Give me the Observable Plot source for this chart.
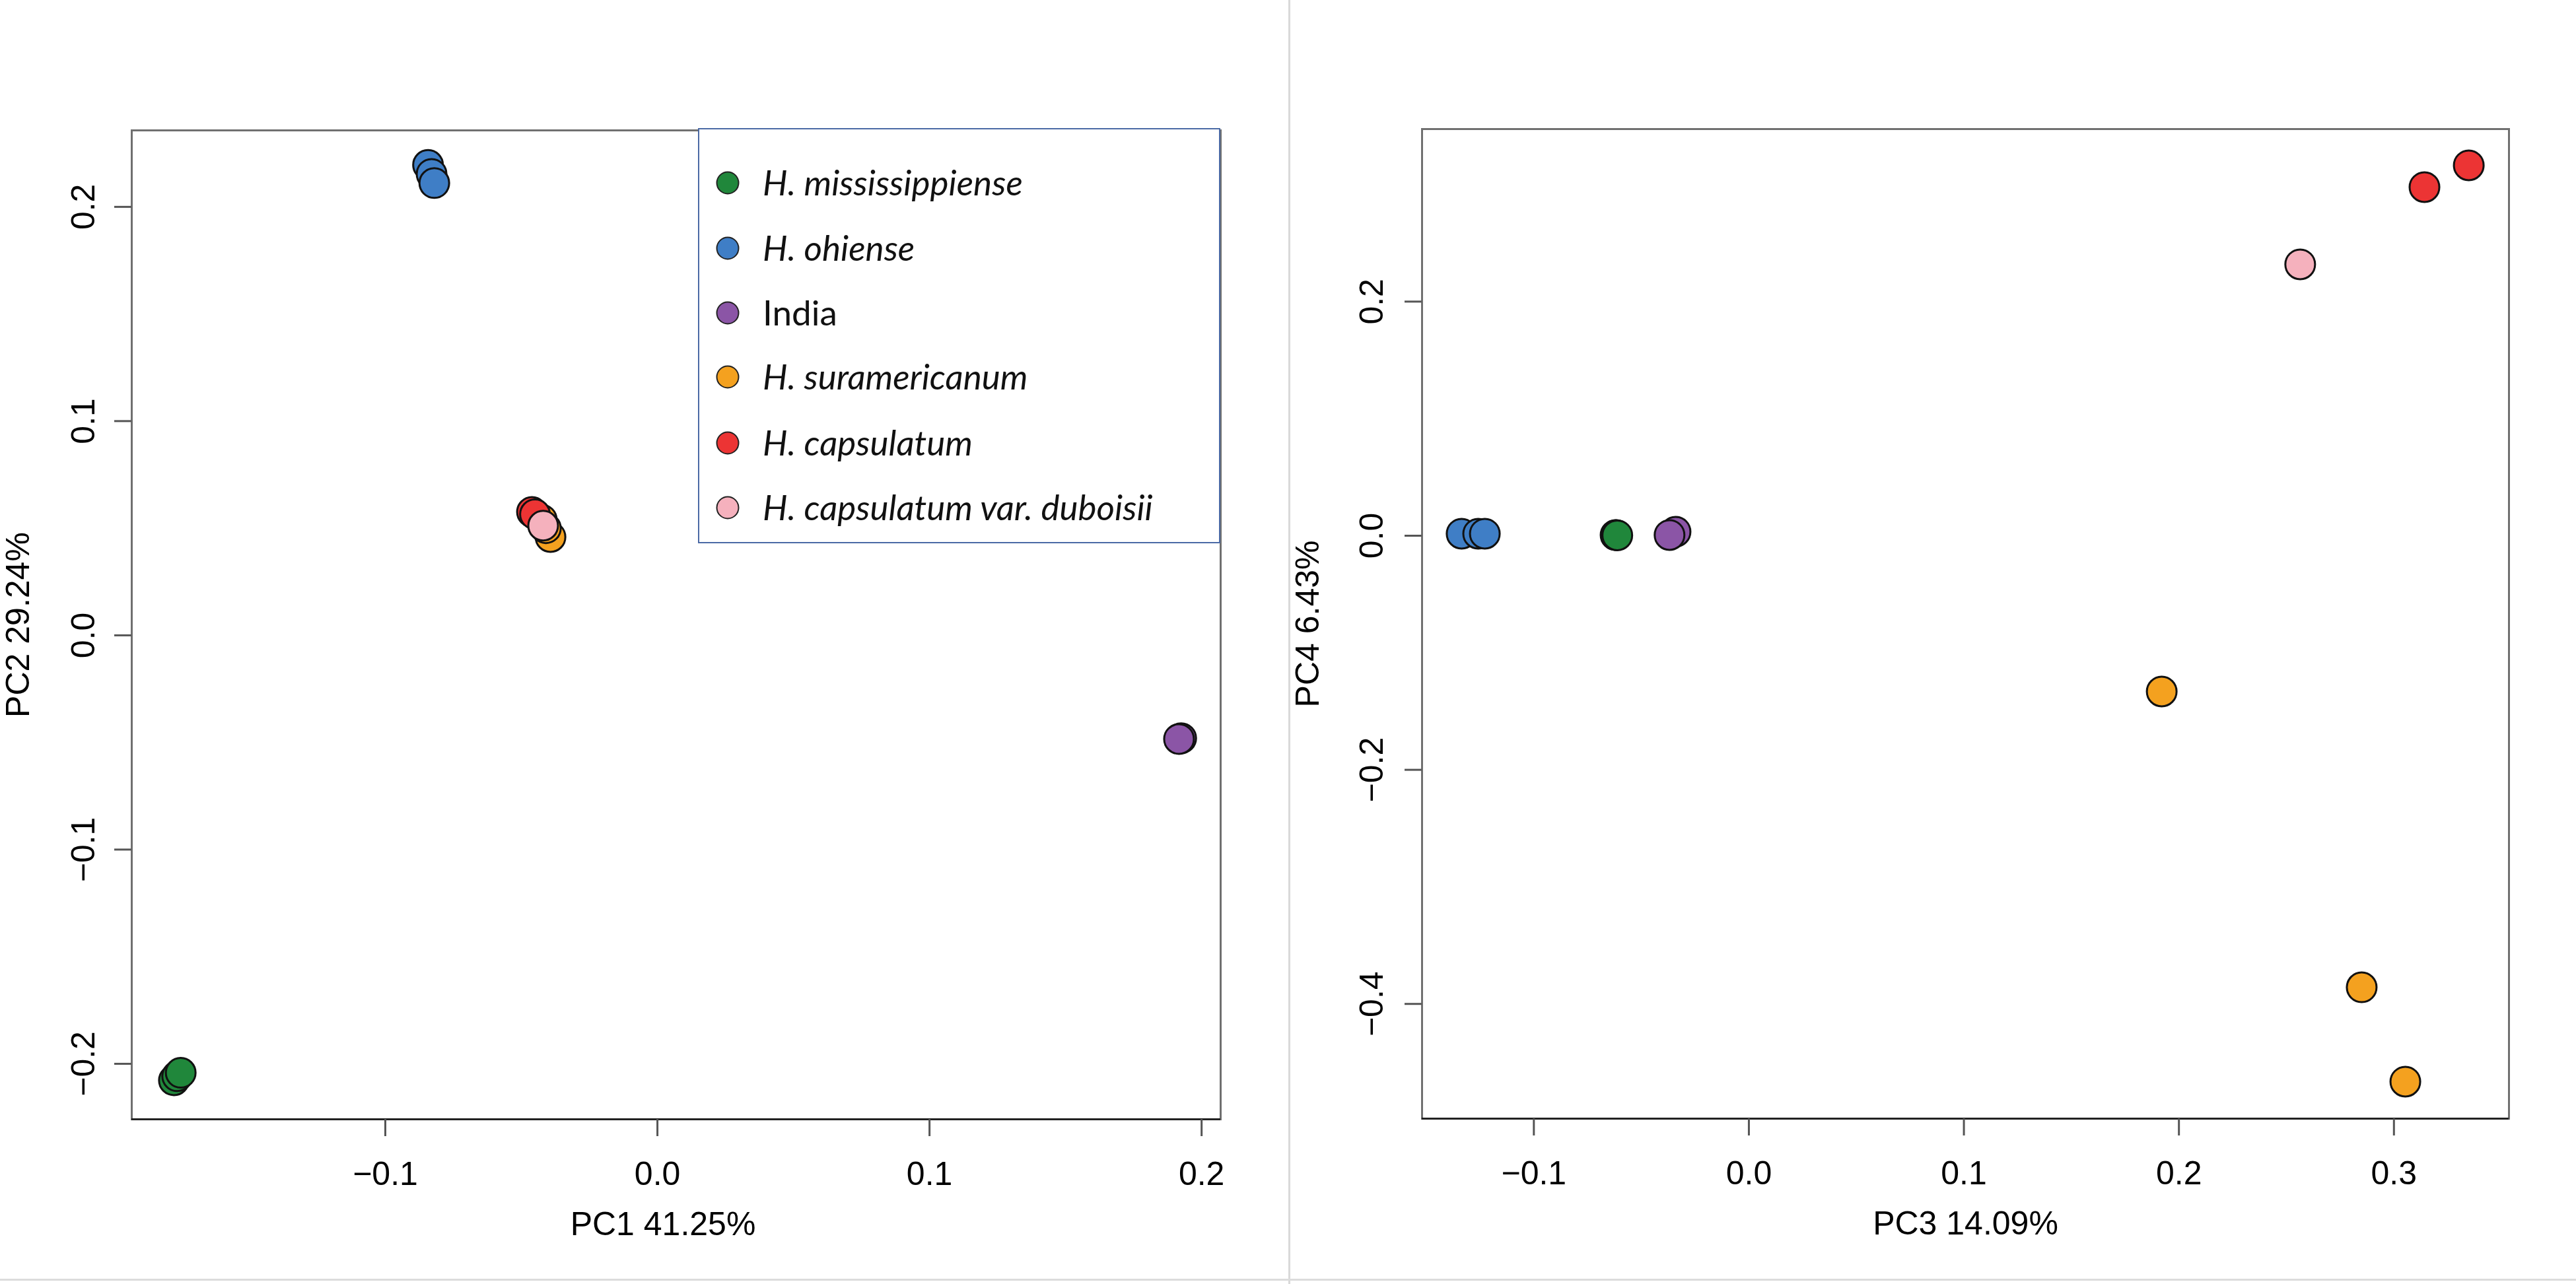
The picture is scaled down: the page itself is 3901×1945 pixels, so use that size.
<!DOCTYPE html>
<html>
<head>
<meta charset="utf-8">
<script src="https://cdn.jsdelivr.net/npm/d3@7"></script>
<script src="https://cdn.jsdelivr.net/npm/@observablehq/plot@0.6"></script>
<style>
  html, body { margin: 0; padding: 0; background: #fff; }
  #root { position: relative; width: 3901px; height: 1945px; overflow: hidden; background: #fff; }
  .panel { position: absolute; top: 0; }
  #divider { position: absolute; left: 1951px; top: 0; width: 3px; height: 1945px; background: #d9d9d9; }
  #bottomline { position: absolute; left: 0; top: 1937px; width: 3901px; height: 3px; background: #dcdcdc; }
  #legend { position: absolute; left: 1057px; top: 194px; width: 791px; height: 629px; box-sizing: border-box;
            border: 2px solid #4b6aa5; background: #fff; z-index: 5;
            font-family: Lato, "Open Sans", sans-serif; font-size: 53px; color: #111; }
  .row { position: absolute; left: 0; height: 60px; }
  .row svg { position: absolute; left: 24px; top: 11px; }
  .row span { position: absolute; left: 96px; white-space: nowrap; line-height: 60px; top: -1px; }
</style>
</head>
<body>
<div id="root">
  <div id="left" class="panel" style="left:0px"></div>
  <div id="right" class="panel" style="left:1950px"></div>
  <div id="divider"></div>
  <div id="bottomline"></div>
  <div id="legend"></div>
</div>
<script>
// ---- categories ----
const groups = ["H. mississippiense", "H. ohiense", "India", "H. suramericanum", "H. capsulatum", "H. capsulatum var. duboisii"];
const groupItalic = [true, true, false, true, true, true];
const groupColors = ["#20873b", "#3f7ec6", "#8b55a6", "#f4a11f", "#ec3434", "#f5b1bd"];

// ---- samples (group index per sample) ----
const sampleGroup = [0, 0, 0, 1, 1, 1, 2, 2, 3, 3, 3, 4, 4, 5];

// ---- PC scores ----
const pc1 = [-0.1777, -0.1765, -0.1752, -0.0843, -0.0830, -0.0820, 0.1925, 0.1917, -0.0393, -0.0410, -0.0425, -0.0461, -0.0450, -0.0420];
const pc2 = [-0.2077, -0.2058, -0.2042, 0.2196, 0.2154, 0.2111, -0.0480, -0.0484, 0.0459, 0.0500, 0.0540, 0.0576, 0.0565, 0.0512];
const pc3 = [-0.0620, -0.0617, -0.0612, -0.1336, -0.1259, -0.1228, -0.0341, -0.0369, 0.1920, 0.2850, 0.3053, 0.3142, 0.3348, 0.2564];
const pc4 = [0.0006, 0.0006, 0.0003, 0.0017, 0.0017, 0.0017, 0.0034, 0.0006, -0.1331, -0.3858, -0.4664, 0.2978, 0.3164, 0.2318];

// ---- axes ----
const leftXTicks = [-0.1, 0.0, 0.1, 0.2];
const leftYTicks = [-0.2, -0.1, 0.0, 0.1, 0.2];
const rightXTicks = [-0.1, 0.0, 0.1, 0.2, 0.3];
const rightYTicks = [-0.4, -0.2, 0.0, 0.2];
const leftXLabel = "PC1 41.25%";
const leftYLabel = "PC2 29.24%";
const rightXLabel = "PC3 14.09%";
const rightYLabel = "PC4 6.43%";
const leftXDomain = [-0.1932, 0.2070];
const leftYDomain = [-0.2259, 0.2357];
const rightXDomain = [-0.1520, 0.3535];
const rightYDomain = [-0.4980, 0.3474];

const fmt = d3.format(".1f");
const FONT = "'Liberation Sans', Arial, Helvetica, sans-serif";

function panel(o) {
  const data = sampleGroup.map((g, i) => ({group: groups[g], x: o.xs[i], y: o.ys[i]}));
  return Plot.plot({
    width: o.width, height: 1945,
    marginLeft: o.mL, marginRight: o.mR, marginTop: o.mT, marginBottom: o.mB,
    style: {fontFamily: FONT, background: "transparent", color: "#000"},
    x: {domain: o.xDomain},
    y: {domain: o.yDomain},
    color: {domain: groups, range: groupColors},
    marks: [
      Plot.frame({stroke: "#707070", strokeWidth: 3}),
      Plot.ruleY([o.yDomain[0]], {stroke: "#222", strokeWidth: 3}),
      Plot.axisX({ticks: o.xTicks, tickSize: 26, tickFormat: fmt, tickPadding: 38, fontSize: 50, stroke: "#555", strokeWidth: 3, label: null, fill: "#000"}),
      Plot.axisY({ticks: o.yTicks, tickSize: 26, tickFormat: () => "", stroke: "#555", strokeWidth: 3, label: null}),
      Plot.text(o.yTicks, {y: d => d, text: d => fmt(d), frameAnchor: "left", dx: o.yTickDx, rotate: -90,
                           fontSize: 50, textAnchor: "middle", lineAnchor: "middle", fill: "#000"}),
      Plot.text([o.xLabel], {frameAnchor: "bottom", dx: o.xTitleDx, dy: 159, fontSize: 50, textAnchor: "middle", lineAnchor: "middle", fill: "#000"}),
      Plot.text([o.yLabel], {frameAnchor: "left", dx: o.yTitleDx, rotate: -90, fontSize: 50, textAnchor: "middle", lineAnchor: "middle", fill: "#000"}),
      Plot.dot(data, {x: "x", y: "y", r: 22.5, fill: "group", stroke: "#111", strokeWidth: 3})
    ]
  });
}

document.getElementById("left").appendChild(panel({
  xs: pc1, ys: pc2, xDomain: leftXDomain, yDomain: leftYDomain, xTicks: leftXTicks, yTicks: leftYTicks,
  xLabel: leftXLabel, yLabel: leftYLabel, width: 1950, mL: 199, mR: 102, mT: 197, mB: 250,
  yTickDx: -73, yTitleDx: -172, xTitleDx: -20
}));
document.getElementById("right").appendChild(panel({
  xs: pc3, ys: pc4, xDomain: rightXDomain, yDomain: rightYDomain, xTicks: rightXTicks, yTicks: rightYTicks,
  xLabel: rightXLabel, yLabel: rightYLabel, width: 1951, mL: 203, mR: 102, mT: 195, mB: 251,
  yTickDx: -76, yTitleDx: -173, xTitleDx: 0
}));

// ---- legend ----
const legend = document.getElementById("legend");
const rowTops = [83, 182, 280, 377, 477, 575];
groups.forEach((g, i) => {
  const row = document.createElement("div");
  row.className = "row";
  row.style.top = (rowTops[i] - 2 - 30) + "px";
  row.style.width = "780px";
  row.innerHTML = `<svg width="38" height="38"><circle cx="19" cy="19" r="16.5" fill="${groupColors[i]}" stroke="#222" stroke-width="2"/></svg>` +
    `<span style="font-style:${groupItalic[i] ? "italic" : "normal"}">${g}</span>`;
  legend.appendChild(row);
});
</script>
</body>
</html>
